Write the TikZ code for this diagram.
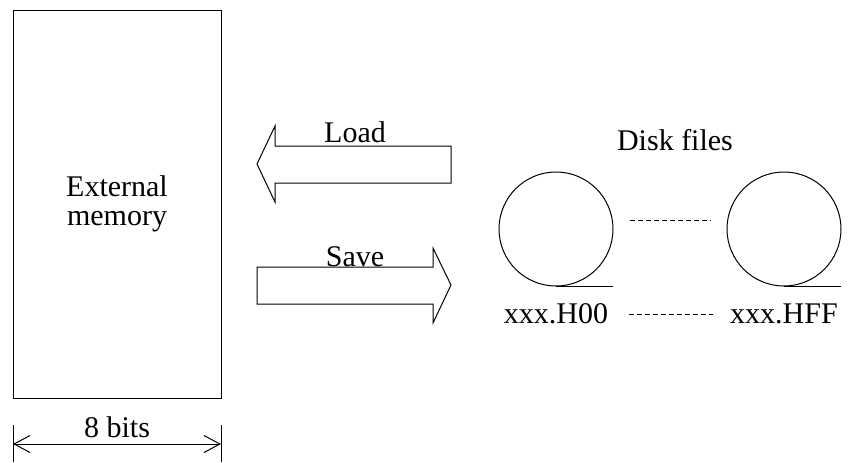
\documentclass[tikz,border=0pt]{standalone}
\usepackage{fontspec}
\setmainfont{Liberation Serif}
\usetikzlibrary{arrows.meta, positioning, calc}
\tikzset{
    membox/.style = {draw, rectangle, minimum width=104pt, minimum height=194pt, align=center},
    disk/.style = {draw, circle, minimum size=57pt, inner sep=0pt},
    label/.style = {align=center},
    blockarrow/.style = {draw, line width=0.5pt, line join=miter},
    dots/.style = {dash pattern=on 2.5pt off 1.5pt, line width=0.5pt},
    dimline/.style = {{Straight Barb[length=8pt, width=8.5pt]}-{Straight Barb[length=8pt, width=8.5pt]}, line width=0.5pt}
}

\begin{document}
\begin{tikzpicture}[x=0.5pt, y=-0.5pt, line width=0.5pt, font=\fontsize{15}{14.5}\selectfont]
    \useasboundingbox (0,0) rectangle (848,462);

    % memory block
    \node[membox] (mem) at (117,204) {External \\ memory};

    % load and save arrows
    \draw[blockarrow] (451,146) -- (275,146) -- (275,126) -- (257,164) -- (275,202) -- (275,183) -- (451,183) -- cycle;
    \draw[blockarrow] (257,267) -- (433,267) -- (433,248) -- (451,285) -- (433,323) -- (433,304) -- (257,304) -- cycle;
    \node[label] (load) at (355,132) {Load};
    \node[label] (save) at (355,257) {Save};

    % disk files
    \node[label] (files) at (675,140) {Disk files};
    \node[disk] (d1) at (556,229) {};
    \node[disk] (d2) at (784,229) {};
    \draw (d1.south) -- ++(57,0);
    \draw (d2.south) -- ++(57,0);
    \draw[dots, shorten <=8pt, shorten >=8pt] ([yshift=4.5pt]d1.east) -- ([yshift=4.5pt]d2.west);

    \node[label] (h00) at (556,314) {xxx.H00};
    \node[label] (hff) at (784,314) {xxx.HFF};
    \draw[dots, shorten <=7pt, shorten >=5pt] (h00) -- (hff);

    % width of the memory
    \coordinate (wl) at (13,425);
    \coordinate (wr) at (221,425);
    \draw (wl) -- ++(0,37);
    \draw (wr) -- ++(0,37);
    \draw[dimline] ($(wl)+(0,19)$) -- ($(wr)+(0,19)$);
    \node[label] (bits) at (117,427) {8 bits};
\end{tikzpicture}
\end{document}
